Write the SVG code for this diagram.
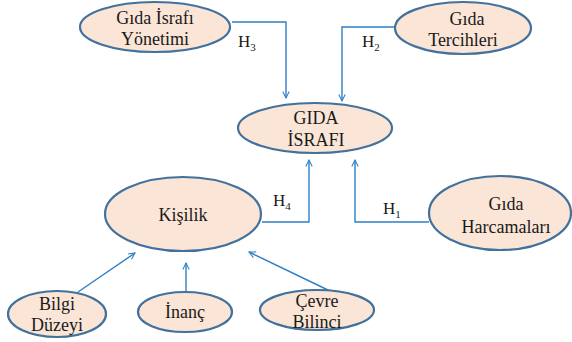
<svg xmlns="http://www.w3.org/2000/svg" width="572" height="342" viewBox="0 0 572 342">
<style>
.n ellipse{fill:#fbe5d6;stroke:#41719c;stroke-width:2.2}
.n text{text-anchor:middle}
.c path{fill:none;stroke:#2e7fc6;stroke-width:1.4;marker-end:url(#ah)}
</style>
<defs>
<marker id="ah" viewBox="0 0 10 10" refX="9" refY="5" markerWidth="8" markerHeight="8" markerUnits="userSpaceOnUse" orient="auto">
<path d="M1,1 L9,5 L1,9" fill="none" stroke="#2e7fc6" stroke-width="1.3"/>
</marker>
</defs>
<rect width="572" height="342" fill="#ffffff"/>
<g class="c" id="connectors">
<path d="M232,22 H286 V98"/>
<path d="M395,27 H342 V101"/>
<path d="M262,222 H309 V160"/>
<path d="M429,222 H355 V160"/>
<path d="M78,292 L135,253"/>
<path d="M186,292 V263"/>
<path d="M330,291 L249,252"/>
</g>
<g font-family="Liberation Serif" font-size="17" fill="#1a1a1a">
<text x="238" y="47">H<tspan font-size="11" dy="4">3</tspan></text>
<text x="362" y="47">H<tspan font-size="11" dy="4">2</tspan></text>
<text x="273" y="206">H<tspan font-size="11" dy="4">4</tspan></text>
<text x="383" y="214">H<tspan font-size="11" dy="4">1</tspan></text>
</g>
<g font-family="Liberation Serif" font-size="18" fill="#1a1a1a">
<g class="n" id="yonetim"><ellipse cx="155" cy="27" rx="75" ry="25"/><text x="155" y="24">Gıda İsrafı</text><text x="155" y="45">Yönetimi</text></g>
<g class="n" id="tercih"><ellipse cx="463" cy="28" rx="68" ry="26"/><text x="467" y="25">Gıda</text><text x="463" y="46">Tercihleri</text></g>
<g class="n" id="israf"><ellipse cx="315" cy="128" rx="77" ry="25"/><text x="316" y="124">GIDA</text><text x="316" y="146">İSRAFI</text></g>
<g class="n" id="kisilik"><ellipse cx="183" cy="214" rx="78" ry="37"/><text x="183" y="221">Kişilik</text></g>
<g class="n" id="harcama"><ellipse cx="500" cy="213" rx="71" ry="37"/><text x="506" y="210">Gıda</text><text x="506" y="233">Harcamaları</text></g>
<g class="n" id="bilgi"><ellipse cx="57" cy="314" rx="49" ry="23"/><text x="57" y="310">Bilgi</text><text x="57" y="331">Düzeyi</text></g>
<g class="n" id="inanc"><ellipse cx="185" cy="312" rx="47" ry="20"/><text x="185" y="318">İnanç</text></g>
<g class="n" id="cevre"><ellipse cx="317" cy="310" rx="57" ry="20"/><text x="317" y="307">Çevre</text><text x="317" y="328">Bilinci</text></g>
</g>
</svg>
